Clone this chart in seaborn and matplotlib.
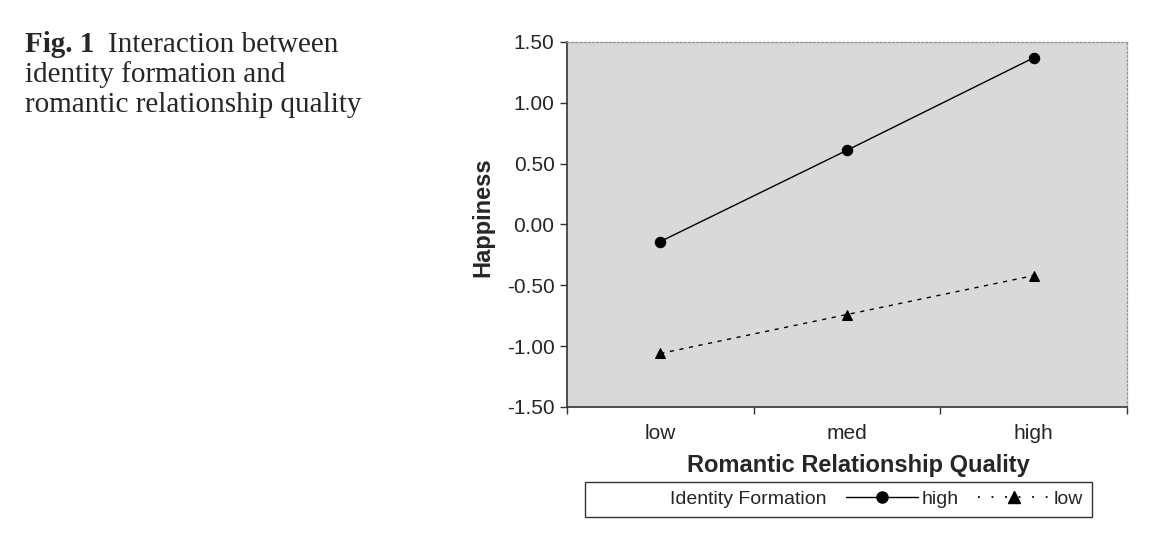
import numpy as np
import pandas as pd
import matplotlib
matplotlib.use('Agg')
import matplotlib.pyplot as plt
import seaborn as sns
from matplotlib.lines import Line2D

# Data
quality = ['low', 'med', 'high']
happiness_high = [-0.14, 0.61, 1.37]
happiness_low = [-1.06, -0.74, -0.42]
y_ticks = [-1.50, -1.00, -0.50, 0.00, 0.50, 1.00, 1.50]

df = pd.DataFrame({
    'quality': quality * 2,
    'happiness': happiness_high + happiness_low,
    'identity': ['high'] * 3 + ['low'] * 3,
})

sns.set_style('white')
plt.rcParams['font.family'] = ['Liberation Sans', 'DejaVu Sans']
plt.rcParams['axes.unicode_minus'] = False

fig = plt.figure(figsize=(11.53, 5.35), dpi=100)
ax = fig.add_axes([0.4918, 0.2393, 0.4856, 0.6822])
ax.set_facecolor('#d9d9d9')

sns.lineplot(data=df, x='quality', y='happiness', hue='identity', style='identity',
             palette={'high': 'black', 'low': 'black'},
             markers={'high': 'o', 'low': '^'},
             dashes={'high': '', 'low': (3, 4)},
             markersize=7.5, linewidth=1.0, markeredgecolor='black',
             sort=False, ax=ax, legend=False)

ax.set_xlim(-0.5, 2.5)
ax.set_ylim(-1.5, 1.5)
ax.set_yticks(y_ticks)
ax.set_yticklabels([f'{v:.2f}' for v in y_ticks])
ax.set_xticks([-0.5, 0.5, 1.5, 2.5])
ax.set_xticklabels([])
ax.set_xticks([0, 1, 2], minor=True)
ax.set_xticklabels(quality, minor=True)
ax.tick_params(axis='x', which='major', direction='out', length=5, width=1, color='#333333', bottom=True)
ax.tick_params(axis='x', which='minor', length=0, pad=12, labelsize=15)
ax.tick_params(axis='y', direction='out', length=5, width=1, color='#333333', left=True, labelsize=15, pad=4)

for side in ['left', 'bottom']:
    ax.spines[side].set_color('#333333')
    ax.spines[side].set_linewidth(1.2)
for side in ['top', 'right']:
    ax.spines[side].set_visible(True)
    ax.spines[side].set_color('#999999')
    ax.spines[side].set_linewidth(1.0)
    ax.spines[side].set_linestyle((0, (1.5, 1.5)))

ax.set_xlabel('Romantic Relationship Quality', fontsize=17, fontweight='bold')
ax.set_ylabel('Happiness', fontsize=17, fontweight='bold')
ax.xaxis.set_label_coords(0.521, -0.128)
ax.yaxis.set_label_coords(-0.129, 0.52)

handles = [
    Line2D([], [], linestyle='none', marker=''),
    Line2D([], [], color='black', linewidth=1.0, marker='o', markersize=8),
    Line2D([], [], color='black', linewidth=1.3, linestyle=(0, (1, 6.5)), marker='^', markersize=8),
]
labels = ['Identity Formation', 'high', 'low']
leg = fig.legend(handles, labels, ncol=3, loc='center', bbox_to_anchor=(0.7273, 0.0664),
                 frameon=True, fancybox=False, edgecolor='black', fontsize=14,
                 handlelength=3.7, handletextpad=0.2, columnspacing=1.0, borderpad=0.45)
leg.get_frame().set_linewidth(1.0)

# caption, one text per line
serif = 'Liberation Serif'
fig.text(25 / 1153, 1 - 52 / 535, 'Fig. 1', fontsize=21, fontweight='bold',
         va='baseline', ha='left', family=serif)
fig.text(108 / 1153, 1 - 52 / 535, 'Interaction between', fontsize=21,
         va='baseline', ha='left', family=serif)
fig.text(25 / 1153, 1 - 82 / 535, 'identity formation and', fontsize=21,
         va='baseline', ha='left', family=serif)
fig.text(25 / 1153, 1 - 112 / 535, 'romantic relationship quality', fontsize=21,
         va='baseline', ha='left', family=serif)

fig.savefig('out.png', dpi=100)
